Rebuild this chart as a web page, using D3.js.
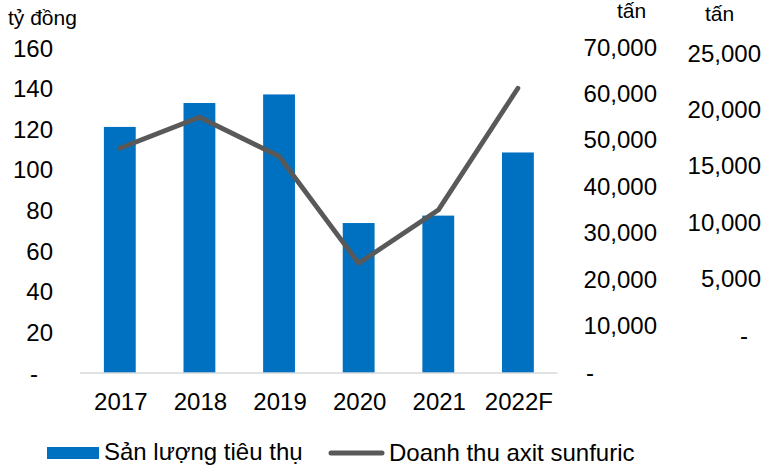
<!DOCTYPE html>
<html>
<head>
<meta charset="utf-8">
<script src="https://cdn.jsdelivr.net/npm/d3@7"></script>
<style>
  body { margin: 0; background: #fff; }
  text { font-family: "Liberation Sans", Arial, sans-serif; fill: #000; }
</style>
</head>
<body>
<script>
// data
var years = ["2017", "2018", "2019", "2020", "2021", "2022F"];
var sanLuong = [53000, 58150, 60000, 32300, 33900, 47500];   // tấn, bars
var doanhThu = [110.6, 125.9, 106.7, 54.0, 80.2, 140.2];     // tỷ đồng, line
var leftTicks = [0, 20, 40, 60, 80, 100, 120, 140, 160];
var midTicks = [0, 10000, 20000, 30000, 40000, 50000, 60000, 70000];
var rightTicks = [0, 5000, 10000, 15000, 20000, 25000];

var width = 762, height = 471;

var svg = d3.select("body")
    .append("svg")
    .attr("width", width)
    .attr("height", height);

var x = d3.scaleBand()
    .domain(years)
    .range([80, 557.7])
    .paddingInner(0.6)
    .paddingOuter(0.3);

var yLeft = d3.scaleLinear().domain([0, 160]).range([373, 48]);
var yMid = d3.scaleLinear().domain([0, 70000]).range([373, 48]);
var yRight = d3.scaleLinear().domain([0, 25000]).range([335, 53]);

var fmt = d3.format(",");

// bars
svg.append("g")
    .selectAll("rect")
    .data(sanLuong)
    .enter()
    .append("rect")
    .attr("x", function (d, i) { return x(years[i]); })
    .attr("width", x.bandwidth())
    .attr("y", function (d) { return yMid(d); })
    .attr("height", function (d) { return yMid(0) - yMid(d); })
    .attr("fill", "#0070C0");

// baseline
svg.append("line")
    .attr("x1", 80)
    .attr("x2", 557.7)
    .attr("y1", yLeft(0))
    .attr("y2", yLeft(0))
    .attr("stroke", "#D9D9D9")
    .attr("stroke-width", 1.5);

// line
var line = d3.line()
    .x(function (d, i) { return x(years[i]) + x.bandwidth() / 2; })
    .y(function (d) { return yLeft(d); });

svg.append("path")
    .datum(doanhThu)
    .attr("d", line)
    .attr("fill", "none")
    .attr("stroke", "#595959")
    .attr("stroke-width", 4.8)
    .attr("stroke-linejoin", "round")
    .attr("stroke-linecap", "round");

// left axis labels
svg.append("g")
    .selectAll("text")
    .data(leftTicks)
    .enter()
    .append("text")
    .attr("x", function (d) { return d === 0 ? 38 : 53; })
    .attr("y", function (d) { return yLeft(d) + 8.5; })
    .attr("text-anchor", "end")
    .style("font-size", "24px")
    .text(function (d) { return d === 0 ? "-" : d; });

// middle axis labels
svg.append("g")
    .selectAll("text")
    .data(midTicks)
    .enter()
    .append("text")
    .attr("x", function (d) { return d === 0 ? 586 : 657; })
    .attr("y", function (d) { return yMid(d) + 7.5; })
    .attr("text-anchor", function (d) { return d === 0 ? "start" : "end"; })
    .style("font-size", "24px")
    .text(function (d) { return d === 0 ? "-" : fmt(d); });

// right axis labels
svg.append("g")
    .selectAll("text")
    .data(rightTicks)
    .enter()
    .append("text")
    .attr("x", function (d) { return d === 0 ? 748 : 761; })
    .attr("y", function (d) { return yRight(d) + 8.5; })
    .attr("text-anchor", "end")
    .style("font-size", "24px")
    .text(function (d) { return d === 0 ? "-" : fmt(d); });

// x labels
svg.append("g")
    .selectAll("text")
    .data(years)
    .enter()
    .append("text")
    .attr("x", function (d) { return x(d) + x.bandwidth() / 2 + 1; })
    .attr("y", 410)
    .attr("text-anchor", "middle")
    .style("font-size", "24px")
    .text(function (d) { return d; });

// units
svg.append("text").attr("x", 8).attr("y", 25).style("font-size", "21px").text("tỷ đồng");
svg.append("text").attr("x", 617).attr("y", 18).style("font-size", "21px").text("tấn");
svg.append("text").attr("x", 705).attr("y", 21).style("font-size", "21px").text("tấn");

// legend
svg.append("rect")
    .attr("x", 47).attr("y", 447)
    .attr("width", 52).attr("height", 12)
    .attr("fill", "#0070C0");
svg.append("text").attr("x", 104).attr("y", 460).style("font-size", "24px").text("Sản lượng tiêu thụ");

svg.append("line")
    .attr("x1", 331).attr("x2", 382)
    .attr("y1", 453).attr("y2", 453)
    .attr("stroke", "#595959")
    .attr("stroke-width", 5)
    .attr("stroke-linecap", "round");
svg.append("text").attr("x", 389).attr("y", 461).style("font-size", "24px").text("Doanh thu axit sunfuric");
</script>
</body>
</html>
